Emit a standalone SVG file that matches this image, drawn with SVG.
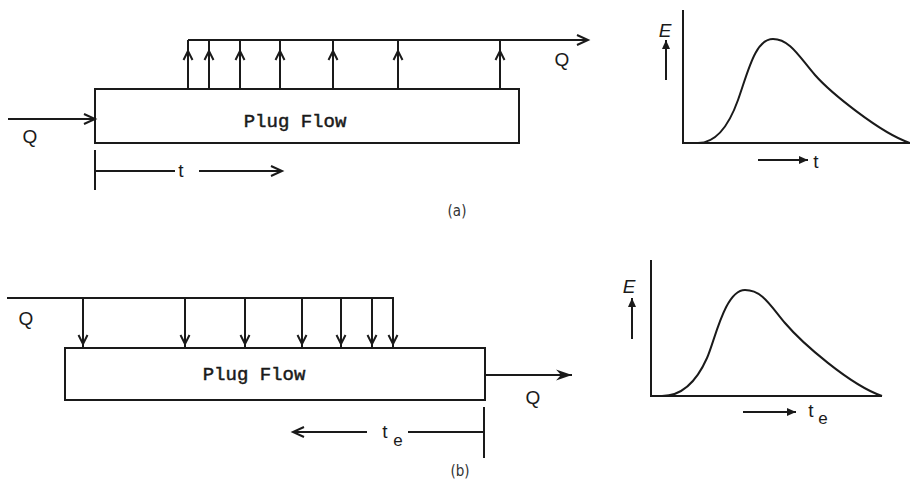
<svg xmlns="http://www.w3.org/2000/svg" width="910" height="484" viewBox="0 0 910 484">
<style>
.ln{fill:none;stroke:#1a1a1a;stroke-width:2;stroke-linecap:butt;stroke-linejoin:miter}
.box{fill:#fff;stroke:#1a1a1a;stroke-width:2}
.mono{font-family:"Liberation Mono","DejaVu Sans Mono",monospace;font-size:19px;fill:#1a1a1a;stroke:#1a1a1a;stroke-width:0.5}
.lbl{font-family:"Liberation Sans","DejaVu Sans",sans-serif;font-size:19px;fill:#1a1a1a}
.sub{font-family:"Liberation Sans","DejaVu Sans",sans-serif;font-size:17px;fill:#1a1a1a}
.cap{font-family:"Liberation Sans Narrow","DejaVu Sans Condensed","Liberation Sans",sans-serif;font-size:15px;fill:#333}
.ax{font-family:"Liberation Sans","DejaVu Sans",sans-serif;font-style:italic;font-size:19px;fill:#1a1a1a}
</style>
<defs>
<marker id="chev" markerUnits="userSpaceOnUse" viewBox="-13 -7 16 14" refX="0" refY="0" markerWidth="16" markerHeight="14" orient="auto">
<path d="M-11,-5 L0,0 L-11,5" fill="none" stroke="#1a1a1a" stroke-width="2"/>
</marker>
<marker id="chevs" markerUnits="userSpaceOnUse" viewBox="-11 -6 13 12" refX="0" refY="0" markerWidth="13" markerHeight="12" orient="auto">
<path d="M-9,-4.5 L0,0 L-9,4.5" fill="none" stroke="#1a1a1a" stroke-width="2"/>
</marker>
<marker id="tri" markerUnits="userSpaceOnUse" viewBox="-10 -5 11 10" refX="0" refY="0" markerWidth="11" markerHeight="10" orient="auto">
<path d="M-9,-4 L0,0 L-9,4 Z" fill="#1a1a1a"/>
</marker>
<marker id="big" markerUnits="userSpaceOnUse" viewBox="-17 -7 18 14" refX="0" refY="0" markerWidth="18" markerHeight="14" orient="auto">
<path d="M-16,-5.5 L0,0 L-16,5.5 L-11,0 Z" fill="#1a1a1a"/>
</marker>
</defs>

<g id="plug-a">
<rect class="box" x="95" y="89" width="424" height="54"/>
<text class="mono" x="295" y="127" text-anchor="middle">Plug Flow</text>
</g>
<g id="plug-b">
<rect class="box" x="65" y="348" width="420" height="52"/>
<text class="mono" x="254" y="380" text-anchor="middle">Plug Flow</text>
</g>

<g id="connectors">
<path class="ln" d="M8,119 L95,119" marker-end="url(#chev)"/>
<path class="ln" d="M188,40 L588,40" marker-end="url(#chev)"/>
<path class="ln" d="M188,89 L188,51 L188,40" marker-mid="url(#chevs)"/>
<path class="ln" d="M209,89 L209,51 L209,40" marker-mid="url(#chevs)"/>
<path class="ln" d="M240,89 L240,51 L240,40" marker-mid="url(#chevs)"/>
<path class="ln" d="M280,89 L280,51 L280,40" marker-mid="url(#chevs)"/>
<path class="ln" d="M333,89 L333,51 L333,40" marker-mid="url(#chevs)"/>
<path class="ln" d="M398,89 L398,51 L398,40" marker-mid="url(#chevs)"/>
<path class="ln" d="M500,89 L500,51 L500,40" marker-mid="url(#chevs)"/>
<path class="ln" d="M95,150 L95,190"/>
<path class="ln" d="M95,171 L175,171"/>
<path class="ln" d="M199,171 L282,171" marker-end="url(#chev)"/>
<path class="ln" d="M7,298 L394,298"/>
<path class="ln" d="M83,298 L83,344 L83,348" marker-mid="url(#chevs)"/>
<path class="ln" d="M185,298 L185,344 L185,348" marker-mid="url(#chevs)"/>
<path class="ln" d="M245,298 L245,344 L245,348" marker-mid="url(#chevs)"/>
<path class="ln" d="M302,298 L302,344 L302,348" marker-mid="url(#chevs)"/>
<path class="ln" d="M341,298 L341,344 L341,348" marker-mid="url(#chevs)"/>
<path class="ln" d="M372,298 L372,344 L372,348" marker-mid="url(#chevs)"/>
<path class="ln" d="M393,298 L393,344 L393,348" marker-mid="url(#chevs)"/>
<path class="ln" d="M485,375 L572,375" marker-end="url(#big)"/>
<path class="ln" d="M484,407 L484,458"/>
<path class="ln" d="M484,432 L408,432"/>
<path class="ln" d="M367,432 L293,432" marker-end="url(#chev)"/>
</g>

<g id="labels">
<text class="lbl" x="30" y="143" text-anchor="middle">Q</text>
<text class="lbl" x="562" y="66" text-anchor="middle">Q</text>
<text class="lbl" x="181" y="177" text-anchor="middle">t</text>
<text class="cap" x="457" y="216" text-anchor="middle">(a)</text>
<text class="lbl" x="26" y="325" text-anchor="middle">Q</text>
<text class="lbl" x="533" y="404" text-anchor="middle">Q</text>
<text class="lbl" x="385" y="438" text-anchor="middle">t</text>
<text class="sub" x="398" y="446" text-anchor="middle">e</text>
<text class="cap" x="460" y="476" text-anchor="middle">(b)</text>
</g>

<g id="graph-a">
<path class="ln" d="M683,10 L683,143 L910,143"/>
<path class="ln" d="M698,143 C715,143 728,128 738,100 C748,72 755,39 773,39 C790,39 800,58 815,75 C830,92 880,133 910,143"/>
<text class="ax" x="665" y="37" text-anchor="middle">E</text>
<path class="ln" d="M666,80 L666,40" marker-end="url(#tri)"/>
<path class="ln" d="M758,160 L808,160" marker-end="url(#tri)"/>
<text class="lbl" x="816" y="168" text-anchor="middle">t</text>
</g>

<g id="graph-b">
<path class="ln" d="M651,260 L651,396 L882,396"/>
<path class="ln" d="M662,396 C680,396 695,385 707,358 C715,340 725,290 745,290 C762,290 770,305 785,323 C802,343 850,385 882,396"/>
<text class="ax" x="629" y="293" text-anchor="middle">E</text>
<path class="ln" d="M632,339 L632,298" marker-end="url(#tri)"/>
<path class="ln" d="M743,412 L796,412" marker-end="url(#tri)"/>
<text class="lbl" x="811" y="417" text-anchor="middle">t</text>
<text class="sub" x="823" y="424" text-anchor="middle">e</text>
</g>
</svg>
